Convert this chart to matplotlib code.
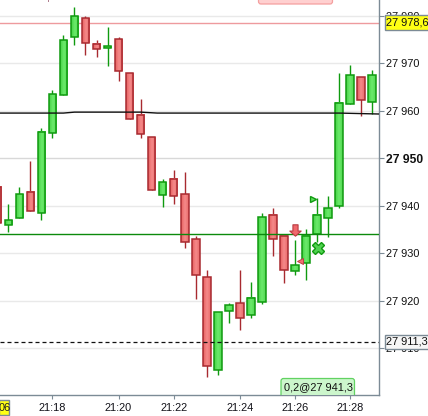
import numpy as np
import matplotlib
matplotlib.use("Agg")
import matplotlib.pyplot as plt
from matplotlib.patches import FancyBboxPatch, Rectangle
from matplotlib.colors import LinearSegmentedColormap
from matplotlib.ticker import FixedLocator
from matplotlib.transforms import Bbox, IdentityTransform, TransformedBbox
from matplotlib.path import Path

plt.rcParams['font.family'] = ['Liberation Sans', 'DejaVu Sans']

# OHLC, offset from 27900
opens  = [43.9,35.9,37.4,42.8,38.4,55.4,63.4,75.5,79.5,74.0,73.3,75.0,67.9,59.1,54.4,42.3,45.6,42.4,32.9,24.9,5.5,17.9,19.5,16.9,19.8,38.0,33.6,26.3,27.9,34.0,37.5,39.9,61.5,67.1,61.9]
closes = [36.3,36.9,42.4,38.8,55.5,63.5,74.8,79.9,74.3,72.9,73.6,68.4,58.3,55.0,43.4,44.9,42.0,32.4,25.5,6.3,17.6,19.1,16.4,20.5,37.6,32.9,26.4,27.5,33.6,38.0,39.5,61.6,67.5,62.3,67.5]
highs  = [43.9,40.4,44.0,49.4,56.3,64.4,76.0,81.9,80.0,74.9,77.6,75.5,67.9,62.5,54.4,45.6,47.5,47.1,33.6,26.5,17.6,19.5,26.5,24.0,38.5,39.5,33.9,32.7,35.1,41.6,42.1,68.0,69.6,67.1,68.6]
lows   = [36.3,34.4,37.4,38.8,36.9,54.3,63.4,73.9,71.7,71.3,69.4,66.3,58.3,54.3,43.4,39.8,40.4,31.0,20.4,4.0,4.4,15.3,13.9,16.4,19.3,29.5,23.8,25.5,24.4,32.4,33.5,39.6,61.5,58.9,59.3]

base = 27900
price_ticks = [27910,27920,27930,27940,27950,27960,27970,27980]
price_labels = ['27 910','27 920','27 930','27 940','27 950','27 960','27 970','27 980']
time_bars = [5,11,16,22,27,32]
time_labels = ['21:18','21:20','21:22','21:24','21:26','21:28']

ma_bars = [0.2,6,7,13,14.5,20,31,34.7]
ma_vals = [27959.5,27959.5,27959.7,27959.7,27959.5,27959.5,27959.5,27959.3]
level_pink = 27978.4
level_green = 27934.0
level_dash = 27911.3

W, H = 428, 416
fig = plt.figure(figsize=(W/100, H/100), dpi=100, facecolor='white')
ax = fig.add_axes([0, (H-395.3)/H, 379.3/W, 395.3/H])
ax.set_xlim(0.2475, 34.64)
ax.set_ylim(27900.1, 27983.3)
ax.set_facecolor('white')

for s in ['top','left']:
    ax.spines[s].set_visible(False)
for s in ['right','bottom']:
    ax.spines[s].set_color('#7c8b96')
    ax.spines[s].set_linewidth(1.0)

ax.yaxis.tick_right()
ax.yaxis.set_major_locator(FixedLocator(price_ticks))
ax.set_yticklabels(price_labels)
ax.set_xticks(time_bars)
ax.set_xticklabels(time_labels)
ax.tick_params(axis='y', length=3.4, width=0.8, color='#7c8b96', labelsize=7.9, pad=1.5, labelcolor='#111111')
ax.tick_params(axis='x', length=3, width=0.8, color='#7c8b96', labelsize=7.9, pad=2.5, labelcolor='#111118')
for lab, v in zip(ax.get_yticklabels(), price_ticks):
    if v == 27950:
        lab.set_fontweight('bold')
        lab.set_fontsize(8.7)

for v in price_ticks:
    ax.axhline(v, color='#d8d8d8' if v == 27950 else '#e9e9e9', lw=1.0, zorder=1)

green_cm = LinearSegmentedColormap.from_list('g', ['#46d246', '#6cea6c', '#52d852'])
red_cm = LinearSegmentedColormap.from_list('r', ['#e66060', '#f58a8a', '#ea6c6c'])
grad = np.linspace(0, 1, 16).reshape(1, -1)
bw = 0.34
for i, (o, c, h, l) in enumerate(zip(opens, closes, highs, lows)):
    up = c >= o
    edge = '#0f9a0f' if up else '#a82a30'
    top, bot = base + max(o, c), base + min(o, c)
    ax.plot([i, i], [base + l, base + h], color=edge, lw=1.0, zorder=3, solid_capstyle='butt')
    ax.imshow(grad, extent=[i - bw, i + bw, bot, top], cmap=green_cm if up else red_cm,
              aspect='auto', zorder=4, interpolation='bilinear')
    ax.add_patch(Rectangle((i - bw, bot), 2 * bw, top - bot, fill=False, ec=edge, lw=1.1, zorder=5))
ax.set_xlim(0.2475, 34.64)
ax.set_ylim(27900.1, 27983.3)

ax.axhline(level_pink, color='#ee9a9e', lw=1.0, zorder=2)
ax.plot(ma_bars, ma_vals, color='#111111', lw=1.0, zorder=6)
ax.axhline(level_green, color='#0c8a0c', lw=1.0, zorder=6)
ax.axhline(level_dash, color='#111111', lw=0.9, ls=(0, (3.2, 2.4)), zorder=6)

# markers
arrow = Path([(-0.45,1),(0.45,1),(0.45,-0.1),(1,-0.1),(0,-1),(-1,-0.1),(-0.45,-0.1),(-0.45,1)], closed=True)
ax.plot([27], [27934.9], marker=arrow, ms=8.2, mfc='#f0686c', mec='#b83a40', mew=0.8, zorder=8)
ax.plot([27.48], [27928.3], marker='<', ms=4.5, mfc='#f07070', mec='#c04048', mew=0.7, zorder=8)
ax.plot([29.05], [27931.1], marker='X', ms=8.4, mfc='#4fd24f', mec='#109a10', mew=1.0, zorder=8)
ax.plot([28.6], [27941.5], marker='>', ms=4.5, mfc='#5fe05f', mec='#109a10', mew=1.0, zorder=8)

# figure-level pixel transform
px = fig.transFigure.inverted()
def P(x, y):
    return px.transform((x, H - y))

def box(x0, y0, x1, y1, fc, ec, clip_y=None, rad=2.5, z=10):
    b = FancyBboxPatch((x0, H - y1), x1 - x0, y1 - y0,
                       boxstyle=f'round,pad=0,rounding_size={rad}', fc=fc, ec=ec, lw=0.9,
                       transform=IdentityTransform(), zorder=z)
    fig.add_artist(b)
    if clip_y is not None:
        b.set_clip_box(TransformedBbox(Bbox([[x0 - 3, H - clip_y], [x1 + 3, H - y0 + 3]]), IdentityTransform()))
        b.set_clip_on(True)

def label(x, y, s, **kw):
    fig.text(*P(x, y), s, va='center', zorder=12, **kw)

def rect(x0, y0, x1, y1, fc, ec='none', lw=1.0, z=10):
    fig.add_artist(Rectangle((x0, H - y1), x1 - x0, y1 - y0, fc=fc, ec=ec, lw=lw,
                             transform=IdentityTransform(), zorder=z))

# pink order box cut by the top edge
box(258.5, -8, 332.5, 4, '#ffd0d0', '#f4a0a0')
# green position box sitting on the axis
box(281, 378.5, 354.5, 400, '#ccf6cc', '#62d262', clip_y=395)
label(284, 387, '0,2@27 941,3', fontsize=7.9, color='#111111')

# price tags
rect(384.5, 15, 428.5, 30, '#ffff14', '#7c8b96')
label(386, 23, '27 978,6', fontsize=7.9, color='#111111')
rect(384.5, 335, 428.5, 348.7, '#f6f6f6', '#7c8b96')
label(386, 342, '27 911,3', fontsize=7.9, color='#111111')
rect(-1, 400.3, 9.2, 415, '#ffff14', '#7c8b96')
label(-1.5, 408, '06', fontsize=7.9, color='#222222')

# bottom frame line
rect(0, 414.5, W, 415.4, '#7c8b96', z=9)
# clipped wick of an off-screen marker at the top edge
rect(48, 0, 49, 2, '#b08090', z=9)

fig.savefig('out.png', dpi=100)
